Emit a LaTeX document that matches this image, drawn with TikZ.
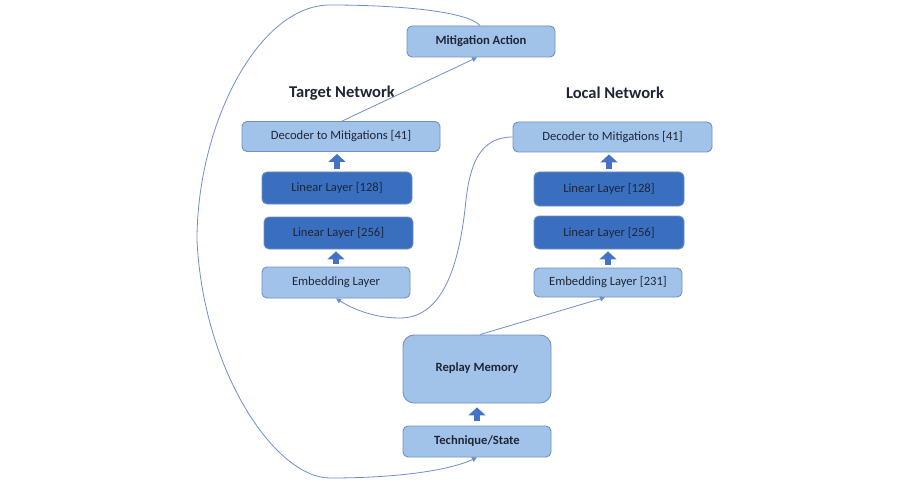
\documentclass[tikz,border=0pt]{standalone}
\usepackage{fontspec}
\setmainfont{Carlito}
\usetikzlibrary{arrows.meta}
\definecolor{lightbox}{HTML}{A2C3E9}
\definecolor{darkbox}{HTML}{3A6FBF}
\definecolor{boxedge}{HTML}{7090C0}
\definecolor{blockarr}{HTML}{4472C4}
\definecolor{conn}{HTML}{6F8ED2}
\definecolor{txt}{HTML}{1E2636}
\tikzset{
  box/.style={draw=boxedge, line width=0.9pt, rounded corners=5pt, fill=lightbox,
    text=txt, font=\fontsize{12.6}{14}\selectfont, inner sep=0pt, align=center},
  darkb/.style={box, fill=darkbox},
  boldbox/.style={box, font=\fontsize{12.6}{14}\selectfont\bfseries},
  title/.style={text=txt, font=\fontsize{16.5}{18}\selectfont\bfseries},
  blockarrow/.style={draw=blockarr, line width=6.5pt,
    -{Triangle[width=17pt,length=8pt]}, color=blockarr},
  connector/.style={draw=conn, line width=0.8pt,
    -{Triangle[width=5pt,length=5pt]}},
}
\begin{document}
\begin{tikzpicture}[x=1pt,y=-1pt]
\useasboundingbox (0,0) rectangle (900,500);
\fill[white] (0,0) rectangle (900,500);
% nodes
\node[boldbox, minimum width=148pt, minimum height=31pt] (mit) at (481,41.5) {Mitigation Action};
\node[title] (tn) at (342,93) {Target Network};
\node[title] (ln) at (615,93) {Local Network};
\node[box, minimum width=198pt, minimum height=30pt] (tdec) at (341,136.5) {Decoder to Mitigations [41]};
\node[darkb, minimum width=150pt, minimum height=32pt] (tl128) at (337,188) {Linear Layer [128]};
\node[darkb, minimum width=149pt, minimum height=32pt] (tl256) at (338.5,233) {Linear Layer [256]};
\node[box, minimum width=148pt, minimum height=31pt] (temb) at (336,282.5) {Embedding Layer};
\node[box, minimum width=199pt, minimum height=30pt] (ldec) at (612.5,137) {Decoder to Mitigations [41]};
\node[darkb, minimum width=150pt, minimum height=34pt] (ll128) at (609,189) {Linear Layer [128]};
\node[darkb, minimum width=150pt, minimum height=33pt] (ll256) at (609,232.5) {Linear Layer [256]};
\node[box, minimum width=148pt, minimum height=29pt] (lemb) at (608,282.5) {Embedding Layer [231]};
\node[boldbox, rounded corners=11pt, minimum width=148pt, minimum height=68pt] (rep) at (477,369) {\raisebox{4pt}{Replay Memory}};
\node[boldbox, minimum width=148pt, minimum height=31pt] (tech) at (477,441.5) {Technique/State};
% block arrows
\draw[blockarrow] ([yshift=3pt]tl128.north) -- ([yshift=-2pt]tl128.north |- tdec.south);
\draw[blockarrow] ([yshift=3pt]temb.north) -- ([yshift=-2pt]temb.north |- tl256.south);
\draw[blockarrow] ([yshift=3pt]ll128.north) -- ([yshift=-2pt]ll128.north |- ldec.south);
\draw[blockarrow] ([yshift=3pt]lemb.north) -- ([yshift=-2pt]lemb.north |- ll256.south);
\draw[blockarrow] ([yshift=5pt]tech.north) -- ([yshift=-4pt]tech.north |- rep.south);
% connectors
\draw[connector] ([xshift=1pt]tdec.north) -- ([xshift=-4pt]mit.south);
\draw[connector] ([xshift=3pt]rep.north) -- ([xshift=-3pt]lemb.south);
\draw[connector] (ldec.west) .. controls +(-33,0) and (470,165) .. (466,200)
  .. controls (460,260) and (445,318) .. (400,318)
  .. controls (370,318) and (348,306) .. (temb.south);
\draw[connector] ([xshift=-1pt]mit.north) .. controls +(-12,-14) and (400,5) .. (330,5)
  .. controls (258,5) and (197,125) .. (197,240)
  .. controls (203,370) and (275,478) .. (330,478)
  .. controls (400,478) and (450,470) .. (tech.south);
\end{tikzpicture}
\end{document}
